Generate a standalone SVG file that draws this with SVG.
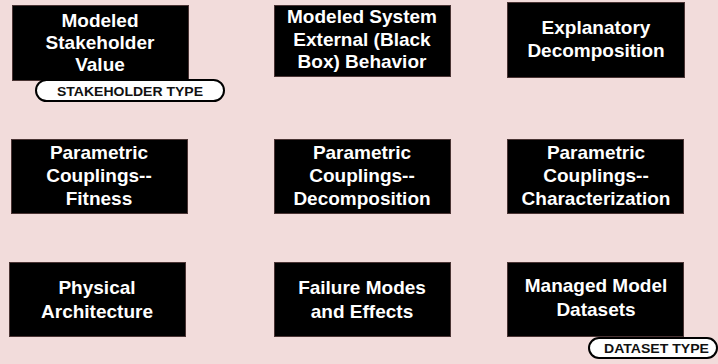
<svg xmlns="http://www.w3.org/2000/svg" width="718" height="364" viewBox="0 0 718 364">
<style>
.box{fill:#000;stroke:#4a3434;stroke-width:1}
.t{font-family:"Liberation Sans",Arial,sans-serif;font-weight:bold;font-size:19px;fill:#fff;text-anchor:middle}
.pill{fill:#fff;stroke:#000;stroke-width:2}
.pt{font-family:"Liberation Sans",Arial,sans-serif;font-weight:bold;font-size:13.5px;fill:#111;text-anchor:middle}
</style>
<rect width="718" height="364" fill="#f2dcdb"/>
<g id="connectors"></g>
<g id="n1">
<rect class="box" x="12.5" y="5.5" width="176" height="75"/>
<text class="t" x="100" y="27">Modeled</text>
<text class="t" x="100" y="49">Stakeholder</text>
<text class="t" x="100" y="71">Value</text>
</g>
<g id="stakeholder-type">
<rect class="pill" x="36" y="80" width="188" height="21" rx="10.5"/>
<text class="pt" x="130" y="95.5" textLength="146" lengthAdjust="spacingAndGlyphs">STAKEHOLDER TYPE</text>
</g>
<g id="n2">
<rect class="box" x="274.5" y="5.5" width="176" height="71"/>
<text class="t" x="362" y="23">Modeled System</text>
<text class="t" x="362" y="46">External (Black</text>
<text class="t" x="362" y="68">Box) Behavior</text>
</g>
<g id="n3">
<rect class="box" x="507.5" y="2.5" width="177" height="75"/>
<text class="t" x="596" y="34">Explanatory</text>
<text class="t" x="596" y="57">Decomposition</text>
</g>
<g id="n4">
<rect class="box" x="11.5" y="139.5" width="176" height="74"/>
<text class="t" x="99" y="159">Parametric</text>
<text class="t" x="99" y="182">Couplings--</text>
<text class="t" x="99" y="205">Fitness</text>
</g>
<g id="n5">
<rect class="box" x="274.5" y="139.5" width="176" height="74"/>
<text class="t" x="362" y="159">Parametric</text>
<text class="t" x="362" y="182">Couplings--</text>
<text class="t" x="362" y="205">Decomposition</text>
</g>
<g id="n6">
<rect class="box" x="507.5" y="139.5" width="176" height="74"/>
<text class="t" x="596" y="159">Parametric</text>
<text class="t" x="596" y="182">Couplings--</text>
<text class="t" x="596" y="205">Characterization</text>
</g>
<g id="n7">
<rect class="box" x="9.5" y="262.5" width="176" height="74"/>
<text class="t" x="97" y="294">Physical</text>
<text class="t" x="97" y="318">Architecture</text>
</g>
<g id="n8">
<rect class="box" x="274.5" y="262.5" width="176" height="74"/>
<text class="t" x="362" y="294">Failure Modes</text>
<text class="t" x="362" y="318">and Effects</text>
</g>
<g id="n9">
<rect class="box" x="507.5" y="262.5" width="176" height="74"/>
<text class="t" x="596" y="292">Managed Model</text>
<text class="t" x="596" y="316">Datasets</text>
</g>
<g id="dataset-type">
<rect class="pill" x="589" y="338" width="128" height="20" rx="10"/>
<text class="pt" x="656.5" y="353" textLength="105" lengthAdjust="spacingAndGlyphs">DATASET TYPE</text>
</g>
</svg>
